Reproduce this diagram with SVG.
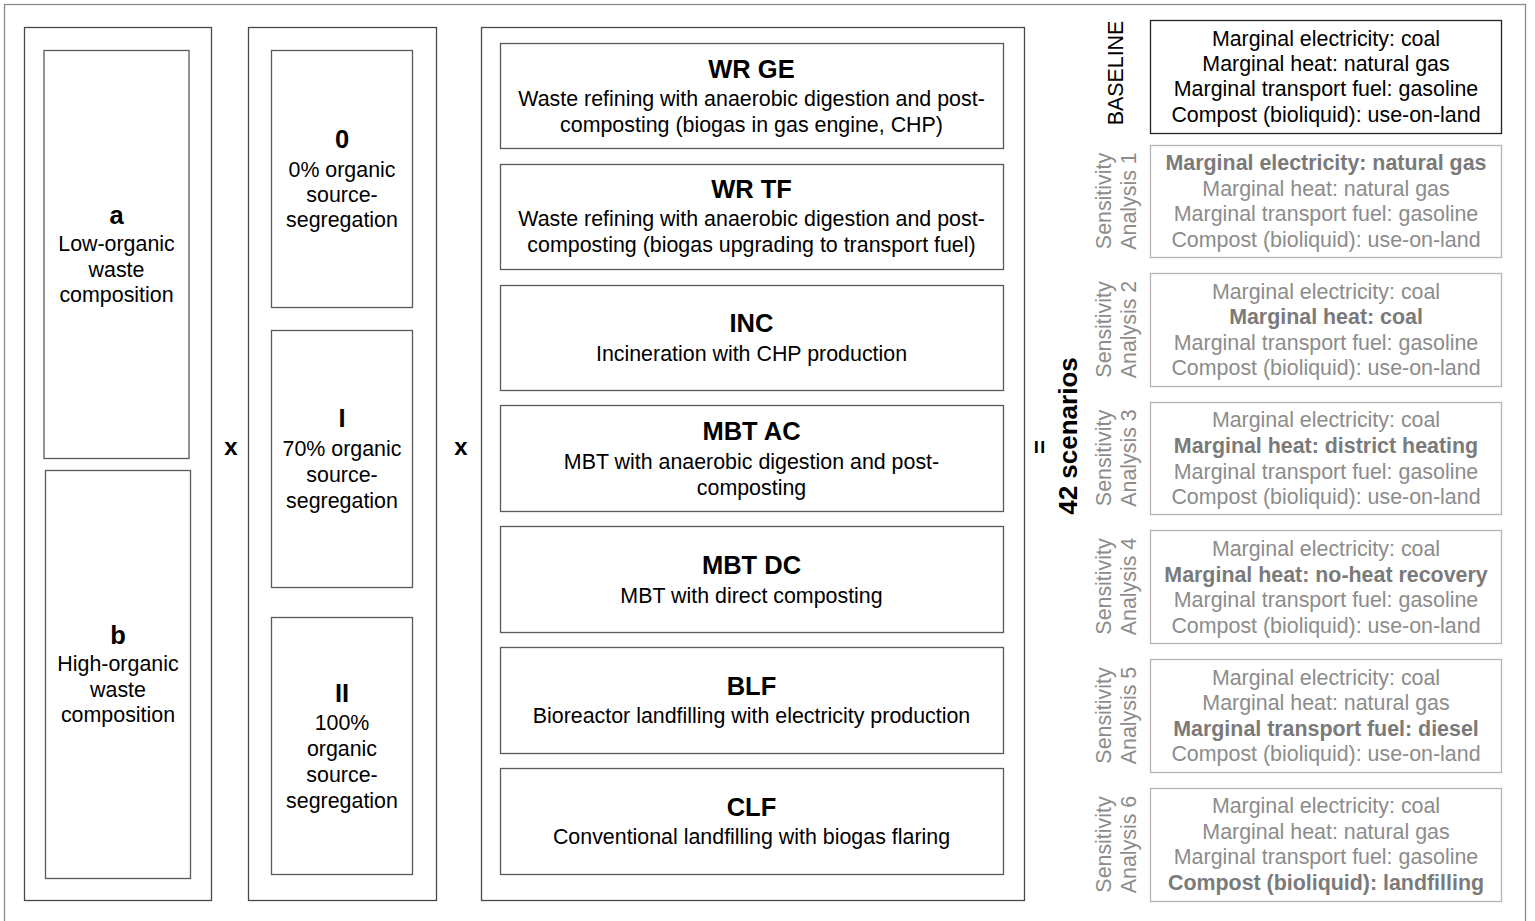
<svg xmlns="http://www.w3.org/2000/svg" width="1535" height="921" viewBox="0 0 1535 921">
<style>
text{font-family:"Liberation Sans",Arial,sans-serif;text-anchor:middle}
.t{font-size:21.4px;fill:#000}
.h{font-size:25.5px;font-weight:bold;fill:#000}
.g{font-size:21.4px;fill:#8c8c8c}
.gb{font-size:21.4px;fill:#7a7a7a;font-weight:bold}
.col{fill:none;stroke:#4a4a4a;stroke-width:1.3}
.box{fill:none;stroke:#5a5a5a;stroke-width:1.3}
.sa{fill:none;stroke:#b4b4b4;stroke-width:1.3}
.base{fill:none;stroke:#222;stroke-width:1.3}
.op{font-size:24px;font-weight:bold;fill:#000}
</style>
<rect x="0" y="0" width="1535" height="921" fill="#fff"/>
<rect x="4.5" y="4.5" width="1521" height="930" fill="none" stroke="#8a8a8a" stroke-width="1.3"/>

<g id="column-composition">
<rect class="col" x="24.5" y="27.5" width="187" height="873"/>
<g id="node-a">
<rect class="box" x="44" y="50.5" width="145" height="408"/>
<text class="h" x="116.5" y="224">a</text>
<text class="t" x="116.5" y="250.5">Low-organic</text>
<text class="t" x="116.5" y="276.5">waste</text>
<text class="t" x="116.5" y="301.5">composition</text>
</g>
<g id="node-b">
<rect class="box" x="45.5" y="470.5" width="145" height="408"/>
<text class="h" x="118" y="644">b</text>
<text class="t" x="118" y="670.5">High-organic</text>
<text class="t" x="118" y="696.5">waste</text>
<text class="t" x="118" y="721.5">composition</text>
</g>
</g>

<text class="op" x="231" y="455">x</text>

<g id="column-segregation">
<rect class="col" x="248.5" y="27.5" width="188" height="873"/>
<g id="node-0">
<rect class="box" x="271.5" y="50.5" width="141" height="257"/>
<text class="h" x="342" y="148">0</text>
<text class="t" x="342" y="176.5">0% organic</text>
<text class="t" x="342" y="201.5">source-</text>
<text class="t" x="342" y="226.5">segregation</text>
</g>
<g id="node-I">
<rect class="box" x="271.5" y="330.5" width="141" height="257"/>
<text class="h" x="342" y="427">I</text>
<text class="t" x="342" y="455.5">70% organic</text>
<text class="t" x="342" y="481.5">source-</text>
<text class="t" x="342" y="507.5">segregation</text>
</g>
<g id="node-II">
<rect class="box" x="271.5" y="617.5" width="141" height="257"/>
<text class="h" x="342" y="702">II</text>
<text class="t" x="342" y="729.5">100%</text>
<text class="t" x="342" y="755.5">organic</text>
<text class="t" x="342" y="781.5">source-</text>
<text class="t" x="342" y="807.5">segregation</text>
</g>
</g>

<text class="op" x="461" y="455">x</text>

<g id="column-technologies">
<rect class="col" x="481.5" y="27.5" width="543" height="873"/>
<g id="node-WRGE">
<rect class="box" x="500.5" y="43.5" width="503" height="105"/>
<text class="h" x="751.5" y="78">WR GE</text>
<text class="t" x="751.5" y="105.5">Waste refining with anaerobic digestion and post-</text>
<text class="t" x="751.5" y="131.5">composting (biogas in gas engine, CHP)</text>
</g>
<g id="node-WRTF">
<rect class="box" x="500.5" y="164.5" width="503" height="105"/>
<text class="h" x="751.5" y="198">WR TF</text>
<text class="t" x="751.5" y="225.5">Waste refining with anaerobic digestion and post-</text>
<text class="t" x="751.5" y="251.5">composting (biogas upgrading to transport fuel)</text>
</g>
<g id="node-INC">
<rect class="box" x="500.5" y="285.5" width="503" height="105"/>
<text class="h" x="751.5" y="332">INC</text>
<text class="t" x="751.5" y="360.5">Incineration with CHP production</text>
</g>
<g id="node-MBTAC">
<rect class="box" x="500.5" y="405.5" width="503" height="106"/>
<text class="h" x="751.5" y="440">MBT AC</text>
<text class="t" x="751.5" y="468.5">MBT with anaerobic digestion and post-</text>
<text class="t" x="751.5" y="494.5">composting</text>
</g>
<g id="node-MBTDC">
<rect class="box" x="500.5" y="526.5" width="503" height="106"/>
<text class="h" x="751.5" y="574">MBT DC</text>
<text class="t" x="751.5" y="602.5">MBT with direct composting</text>
</g>
<g id="node-BLF">
<rect class="box" x="500.5" y="647.5" width="503" height="106"/>
<text class="h" x="751.5" y="695">BLF</text>
<text class="t" x="751.5" y="722.5">Bioreactor landfilling with electricity production</text>
</g>
<g id="node-CLF">
<rect class="box" x="500.5" y="768.5" width="503" height="106"/>
<text class="h" x="751.5" y="816">CLF</text>
<text class="t" x="751.5" y="843.5">Conventional landfilling with biogas flaring</text>
</g>
</g>

<g id="result">
<text class="op" transform="translate(1048,447) rotate(-90)">=</text>
<text transform="translate(1076.5,436) rotate(-90)" style="font-size:26px;font-weight:bold;fill:#000">42 scenarios</text>
</g>

<g id="node-baseline">
<text class="t" transform="translate(1122.5,73) rotate(-90)">BASELINE</text>
<rect class="base" x="1150.5" y="20.5" width="351" height="113"/>
<text class="t" x="1326" y="45.5">Marginal electricity: coal</text>
<text class="t" x="1326" y="70.5">Marginal heat: natural gas</text>
<text class="t" x="1326" y="95.5">Marginal transport fuel: gasoline</text>
<text class="t" x="1326" y="121.5">Compost (bioliquid): use-on-land</text>
</g>

<g id="node-SA1">
<text class="g" transform="translate(1110.5,201) rotate(-90)">Sensitivity</text>
<text class="g" transform="translate(1135.5,201) rotate(-90)">Analysis 1</text>
<rect class="sa" x="1150.5" y="145.5" width="351" height="112"/>
<text class="gb" x="1326" y="169.5">Marginal electricity: natural gas</text>
<text class="g" x="1326" y="195.5">Marginal heat: natural gas</text>
<text class="g" x="1326" y="220.5">Marginal transport fuel: gasoline</text>
<text class="g" x="1326" y="246.5">Compost (bioliquid): use-on-land</text>
</g>

<g id="node-SA2">
<text class="g" transform="translate(1110.5,329.5) rotate(-90)">Sensitivity</text>
<text class="g" transform="translate(1135.5,329.5) rotate(-90)">Analysis 2</text>
<rect class="sa" x="1150.5" y="273.5" width="351" height="113"/>
<text class="g" x="1326" y="298.5">Marginal electricity: coal</text>
<text class="gb" x="1326" y="323.5">Marginal heat: coal</text>
<text class="g" x="1326" y="349.5">Marginal transport fuel: gasoline</text>
<text class="g" x="1326" y="374.5">Compost (bioliquid): use-on-land</text>
</g>

<g id="node-SA3">
<text class="g" transform="translate(1110.5,458) rotate(-90)">Sensitivity</text>
<text class="g" transform="translate(1135.5,458) rotate(-90)">Analysis 3</text>
<rect class="sa" x="1150.5" y="402.5" width="351" height="112"/>
<text class="g" x="1326" y="426.5">Marginal electricity: coal</text>
<text class="gb" x="1326" y="452.5">Marginal heat: district heating</text>
<text class="g" x="1326" y="478.5">Marginal transport fuel: gasoline</text>
<text class="g" x="1326" y="503.5">Compost (bioliquid): use-on-land</text>
</g>

<g id="node-SA4">
<text class="g" transform="translate(1110.5,586.5) rotate(-90)">Sensitivity</text>
<text class="g" transform="translate(1135.5,586.5) rotate(-90)">Analysis 4</text>
<rect class="sa" x="1150.5" y="530.5" width="351" height="113"/>
<text class="g" x="1326" y="555.5">Marginal electricity: coal</text>
<text class="gb" x="1326" y="581.5">Marginal heat: no-heat recovery</text>
<text class="g" x="1326" y="606.5">Marginal transport fuel: gasoline</text>
<text class="g" x="1326" y="632.5">Compost (bioliquid): use-on-land</text>
</g>

<g id="node-SA5">
<text class="g" transform="translate(1110.5,715.5) rotate(-90)">Sensitivity</text>
<text class="g" transform="translate(1135.5,715.5) rotate(-90)">Analysis 5</text>
<rect class="sa" x="1150.5" y="659.5" width="351" height="113"/>
<text class="g" x="1326" y="684.5">Marginal electricity: coal</text>
<text class="g" x="1326" y="709.5">Marginal heat: natural gas</text>
<text class="gb" x="1326" y="735.5">Marginal transport fuel: diesel</text>
<text class="g" x="1326" y="760.5">Compost (bioliquid): use-on-land</text>
</g>

<g id="node-SA6">
<text class="g" transform="translate(1110.5,844.5) rotate(-90)">Sensitivity</text>
<text class="g" transform="translate(1135.5,844.5) rotate(-90)">Analysis 6</text>
<rect class="sa" x="1150.5" y="788.5" width="351" height="113"/>
<text class="g" x="1326" y="812.5">Marginal electricity: coal</text>
<text class="g" x="1326" y="838.5">Marginal heat: natural gas</text>
<text class="g" x="1326" y="863.5">Marginal transport fuel: gasoline</text>
<text class="gb" x="1326" y="889.5">Compost (bioliquid): landfilling</text>
</g>

<g id="connectors"></g>
</svg>
